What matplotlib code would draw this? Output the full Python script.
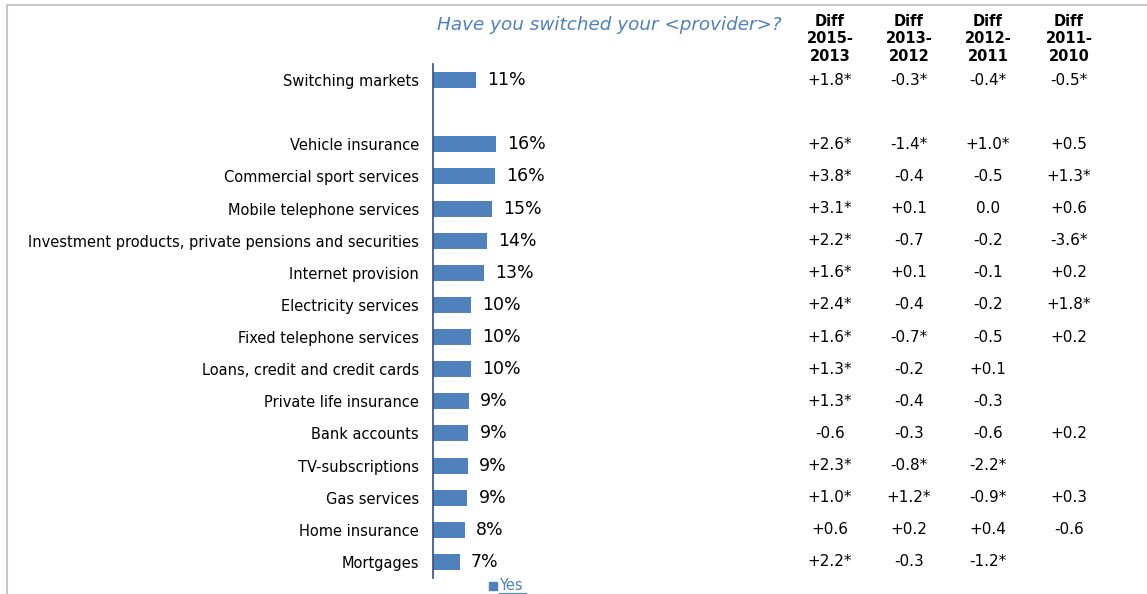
import numpy as np
import matplotlib.pyplot as plt
from matplotlib.lines import Line2D

plt.rcParams['font.family'] = ['DejaVu Sans']

categories = ['Switching markets', '', 'Vehicle insurance', 'Commercial sport services',
              'Mobile telephone services',
              'Investment products, private pensions and securities',
              'Internet provision', 'Electricity services', 'Fixed telephone services',
              'Loans, credit and credit cards', 'Private life insurance', 'Bank accounts',
              'TV-subscriptions', 'Gas services', 'Home insurance', 'Mortgages']
yes_share = [11.0, np.nan, 16.2, 15.8, 15.1, 13.9, 13.1, 9.8, 9.8, 9.8,
             9.2, 9.1, 8.9, 8.8, 8.1, 6.9]
yes_label = ['11%', '', '16%', '16%', '15%', '14%', '13%', '10%', '10%', '10%',
             '9%', '9%', '9%', '9%', '8%', '7%']

col_heads = ['Diff\n2015-\n2013', 'Diff\n2013-\n2012', 'Diff\n2012-\n2011', 'Diff\n2011-\n2010']
diff_15_13 = ['+1.8*', '', '+2.6*', '+3.8*', '+3.1*', '+2.2*', '+1.6*', '+2.4*', '+1.6*',
              '+1.3*', '+1.3*', '-0.6', '+2.3*', '+1.0*', '+0.6', '+2.2*']
diff_13_12 = ['-0.3*', '', '-1.4*', '-0.4', '+0.1', '-0.7', '+0.1', '-0.4', '-0.7*',
              '-0.2', '-0.4', '-0.3', '-0.8*', '+1.2*', '+0.2', '-0.3']
diff_12_11 = ['-0.4*', '', '+1.0*', '-0.5', '0.0', '-0.2', '-0.1', '-0.2', '-0.5',
              '+0.1', '-0.3', '-0.6', '-2.2*', '-0.9*', '+0.4', '-1.2*']
diff_11_10 = ['-0.5*', '', '+0.5', '+1.3*', '+0.6', '-3.6*', '+0.2', '+1.8*', '+0.2',
              '', '', '+0.2', '', '+0.3', '-0.6', '']

W, H = 1147, 594
fig = plt.figure(figsize=(W / 100, H / 100), dpi=100)

bar_col = '#4F81BD'
ax = fig.add_axes([433 / W, 1 - 578 / H, 357 / W, 514 / H])
y = np.arange(len(categories))
ax.barh(y, yes_share, height=0.5, color=bar_col)
ax.set_ylim(len(categories) - 0.5, -0.5)
ax.set_xlim(0, 357 / 3.9)
ax.set_yticks(y)
ax.set_yticklabels(categories, fontsize=10.5)
ax.tick_params(axis='y', length=0, pad=10)
ax.set_xticks([])
for s in ['top', 'right', 'bottom']:
    ax.spines[s].set_visible(False)
ax.spines['left'].set_color('#2F4F8F')
ax.spines['left'].set_linewidth(1.2)

for yi, v, lab in zip(y, yes_share, yes_label):
    if lab:
        ax.annotate(lab, (v, yi), xytext=(8, 0), textcoords='offset points',
                    va='center', ha='left', fontsize=12.5)

# difference table
tr = ax.get_yaxis_transform()
col_x = [830, 909, 988, 1069]
cols = [diff_15_13, diff_13_12, diff_12_11, diff_11_10]
for cx, head, vals in zip(col_x, col_heads, cols):
    fig.text(cx / W, 1 - 14 / H, head, ha='center', va='top', fontsize=10.5,
             fontweight='bold', linespacing=1.2)
    for yi, s in zip(y, vals):
        if s:
            ax.text((cx - 433) / 357, yi, s, transform=tr, ha='center', va='center',
                    fontsize=11, clip_on=False)

fig.text(609 / W, 1 - 25 / H, 'Have you switched your <provider>?', ha='center',
         va='center', fontsize=13.2, style='italic', color=bar_col)

# legend
fig.patches.append(plt.Rectangle((489 / W, 1 - 590 / H), 8 / W, 8 / H,
                                 transform=fig.transFigure, color=bar_col))
fig.text(499 / W, 1 - 586 / H, 'Yes', ha='left', va='center', fontsize=10.5,
         color=bar_col)
fig.lines.append(Line2D([499 / W, 526 / W], [1 - 593 / H, 1 - 593 / H],
                        transform=fig.transFigure, color=bar_col, lw=0.8))

# page frame
fig.lines.append(Line2D([7 / W, 1], [1 - 5 / H, 1 - 5 / H], transform=fig.transFigure,
                        color='#C8C8C8', lw=1.5))
fig.lines.append(Line2D([7.5 / W, 7.5 / W], [0, 1 - 5 / H], transform=fig.transFigure,
                        color='#C8C8C8', lw=1.5))

fig.savefig('out.png', dpi=100)
